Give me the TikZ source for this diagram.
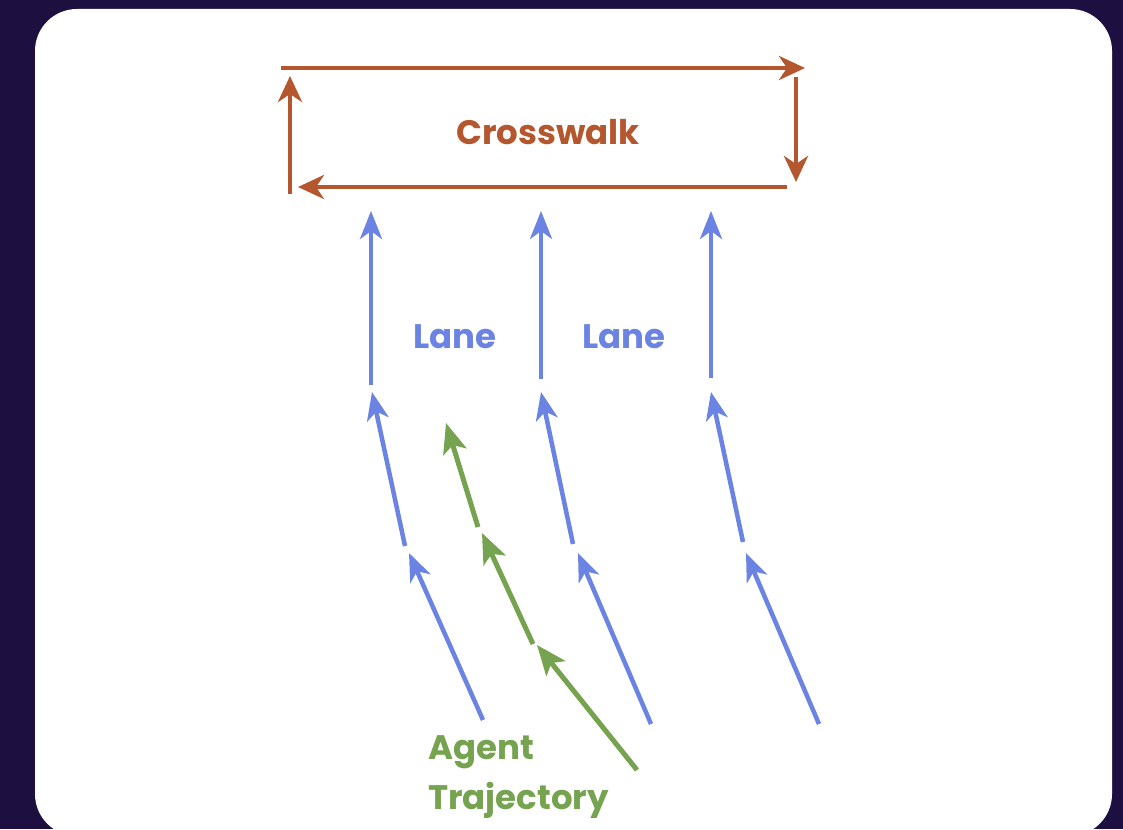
\documentclass[tikz,border=0pt]{standalone}
\usepackage{fontspec}
\newfontfamily\pop{Poppins}
\usetikzlibrary{arrows.meta}
\definecolor{bgc}{HTML}{1E0F41}
\definecolor{brn}{HTML}{B4572E}
\definecolor{blu}{HTML}{6B84E3}
\definecolor{grn}{HTML}{76A34F}
\tikzset{
  cw/.style={draw=brn, line width=4.5pt, -{Stealth[length=26pt,width=24pt,inset=8pt]}},
  ln/.style={draw=blu, line width=4.5pt, -{Stealth[length=28pt,width=22pt,inset=8pt]}},
  tr/.style={draw=grn, line width=5pt, -{Stealth[length=30pt,width=24pt,inset=7pt]}},
  lbl/.style={font=\pop\bfseries\fontsize{34}{38}\selectfont, inner sep=0pt},
}
\begin{document}
\begin{tikzpicture}[x=1pt,y=-1pt]
\useasboundingbox (0,0) rectangle (1123,829);
\clip (0,0) rectangle (1123,829);
\fill[bgc] (0,0) rectangle (1123,829);
\fill[white, rounded corners=42pt] (35,9) rectangle (1112,836);
% crosswalk loop
\coordinate (c1) at (281,68);
\coordinate (c2) at (805,68);
\coordinate (c3) at (796,77);
\coordinate (c4) at (796,182);
\coordinate (c5) at (787,187);
\coordinate (c6) at (298,187);
\coordinate (c7) at (290,194);
\coordinate (c8) at (290,76);
\draw[cw] (c1) -- (c2);
\draw[cw] (c3) -- (c4);
\draw[cw] (c5) -- (c6);
\draw[cw] (c7) -- (c8);
\node[lbl, text=brn] (cross) at (548,132) {Crosswalk};
% lanes
\foreach \i/\x/\yb in {a/371/385, b/541/379, c/711/378}{
  \coordinate (\i top) at (\x,211);
  \coordinate (\i bot) at (\x,\yb);
  \draw[ln] (\i bot) -- (\i top);
}
\node[lbl, text=blu] (lane1) at (455,337) {Lane};
\node[lbl, text=blu] (lane2) at (624,337) {Lane};
% slanted lane segments
\coordinate (a1) at (405,546); \coordinate (a2) at (372,392);
\coordinate (a3) at (483,720); \coordinate (a4) at (409,553);
\coordinate (b1) at (573,544); \coordinate (b2) at (541,392);
\coordinate (b3) at (651,724); \coordinate (b4) at (578,553);
\coordinate (e1) at (743,542); \coordinate (e2) at (711,392);
\coordinate (e3) at (819,724); \coordinate (e4) at (746,553);
\draw[ln] (a1) -- (a2); \draw[ln] (a3) -- (a4);
\draw[ln] (b1) -- (b2); \draw[ln] (b3) -- (b4);
\draw[ln] (e1) -- (e2); \draw[ln] (e3) -- (e4);
% agent trajectory
\coordinate (g1) at (478,527); \coordinate (g2) at (446,423);
\coordinate (g3) at (533,644); \coordinate (g4) at (482,533);
\coordinate (g5) at (637,770); \coordinate (g6) at (537,645);
\draw[tr] (g1) -- (g2);
\draw[tr] (g3) -- (g4);
\draw[tr] (g5) -- (g6);
\node[lbl, text=grn, anchor=west] (agent) at (428,752) {Agent};
\node[lbl, text=grn, anchor=west] (traj) at (428,800) {Trajectory};
\end{tikzpicture}
\end{document}
